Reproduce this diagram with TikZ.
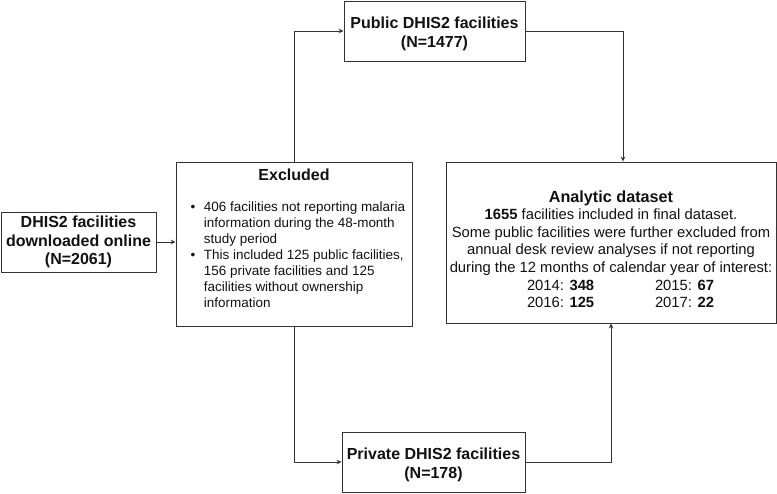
\documentclass[tikz,border=0pt]{standalone}
\usepackage{fontspec}
\usepackage{graphicx}
\setmainfont{Liberation Sans}
\usetikzlibrary{calc,arrows.meta}
\definecolor{ink}{HTML}{111111}
\definecolor{wire}{HTML}{333333}
\newcommand{\lift}[1]{\rule{0pt}{#1}}
\newcommand{\itemgap}{\hspace*{10.3pt}}
\newcommand{\itemskip}{\hspace*{10.3pt}\phantom{\textbullet}}
\tikzset{
  box/.style={draw=wire, line width=0.9pt, inner sep=0pt, align=center, text=ink},
  head/.style={font=\fontsize{16}{18.4}\selectfont\bfseries},
  body/.style={font=\fontsize{14.8}{17.6}\selectfont},
  listtext/.style={font=\fontsize{16.3}{19.4}\selectfont, text=ink, inner sep=0pt},
  link/.style={draw=wire, line width=0.9pt, -{Stealth[length=5pt,width=4.5pt]}},
}
\begin{document}
\begin{tikzpicture}[x=1pt,y=-1pt]
  \useasboundingbox (0,0) rectangle (777,494);
  % boxes
  \node[box,head,minimum width=155pt,minimum height=60pt] (src) at (78.5,242) {DHIS2 facilities\\downloaded online\\(N=2061)};
  \node[box,minimum width=236pt,minimum height=164pt] (excl) at (294,244) {};
  \node[head,text=ink] (excltitle) at (294,175) {Excluded};
  \node[listtext,anchor=north west] (excllist) at (190.5,201.8) {%
    \resizebox{214.5pt}{!}{\vbox{%
      \hbox{\textbullet\itemgap 406 facilities not reporting malaria}
      \hbox{\itemskip information during the 48-month}
      \hbox{\itemskip study period}
      \hbox{\textbullet\itemgap This included 125 public facilities,}
      \hbox{\itemskip 156 private facilities and 125}
      \hbox{\itemskip facilities without ownership}
      \hbox{\itemskip information}}}};
  \node[box,head,minimum width=181pt,minimum height=60pt] (pub) at (434.5,31) {\lift{17.5pt}Public DHIS2 facilities\\(N=1477)};
  \node[box,head,minimum width=183pt,minimum height=60pt] (priv) at (433.5,462) {\lift{17.5pt}Private DHIS2 facilities\\(N=178)};
  \node[box,body,minimum width=330pt,minimum height=161pt] (ana) at (611,242.5) {%
    \lift{25pt}{\fontsize{16.2}{17.6}\selectfont\bfseries Analytic dataset}\\
    \textbf{1655} facilities included in final dataset.\\
    Some public facilities were further excluded from\\
    annual desk review analyses if not reporting\\
    during the 12 months of calendar year of interest:\\
    \hspace*{19pt}\makebox[128pt][l]{2014: \textbf{348}}2015: \textbf{67}\\
    \hspace*{19pt}\makebox[128pt][l]{2016: \textbf{125}}2017: \textbf{22}};
  % connectors
  \coordinate (anain) at ($(ana.north)+(12,0)$);
  \draw[link] (src.east) -- (src.east -| excl.west);
  \draw[link] (excl.north) |- (pub.west);
  \draw[link] (pub.east) -| (anain);
  \draw[link] (excl.south) |- (priv.west);
  \draw[link] (priv.east) -| (ana.south);
\end{tikzpicture}
\end{document}
